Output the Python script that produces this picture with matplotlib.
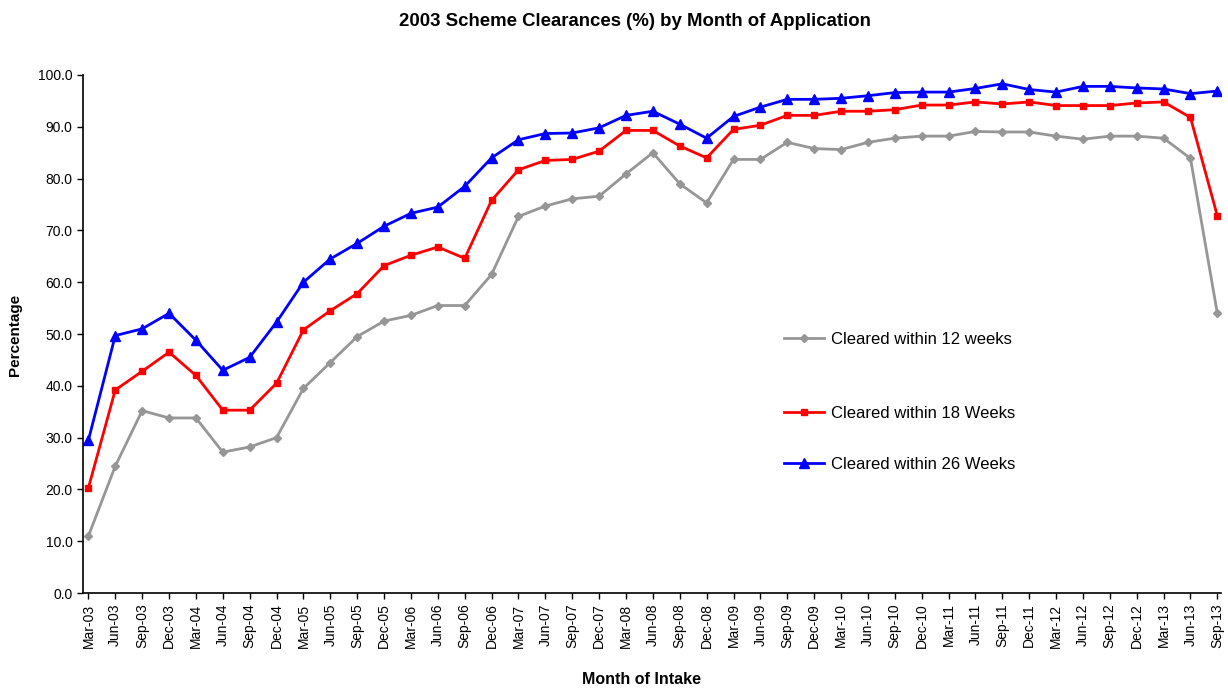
import matplotlib
matplotlib.use("Agg")
import matplotlib.pyplot as plt
from matplotlib.legend import Legend

plt.rcParams['font.family'] = ['Liberation Sans', 'DejaVu Sans']

months = ["Mar", "Jun", "Sep", "Dec"]
labels = []
for yr in range(3, 14):
    for m in months:
        labels.append(f"{m}-{yr:02d}")
labels = labels[:43]

cleared_12 = [11.0, 24.5, 35.2, 33.8, 33.8, 27.2, 28.2, 30.0, 39.5, 44.5,
              49.5, 52.5, 53.6, 55.5, 55.5, 61.5, 72.7, 74.7, 76.1, 76.6,
              80.9, 85.0, 79.0, 75.3, 83.7, 83.7, 87.0, 85.8, 85.6, 87.0,
              87.8, 88.2, 88.2, 89.1, 89.0, 89.0, 88.2, 87.6, 88.2, 88.2,
              87.8, 83.9, 54.0]
cleared_18 = [20.3, 39.2, 42.8, 46.5, 42.0, 35.3, 35.3, 40.5, 50.8, 54.5,
              57.8, 63.2, 65.2, 66.8, 64.6, 75.8, 81.7, 83.5, 83.7, 85.3,
              89.3, 89.3, 86.3, 84.0, 89.5, 90.3, 92.2, 92.2, 93.0, 93.0,
              93.3, 94.2, 94.2, 94.8, 94.4, 94.8, 94.1, 94.1, 94.1, 94.6,
              94.8, 91.8, 72.8]
cleared_26 = [29.5, 49.7, 51.0, 54.0, 48.8, 43.0, 45.5, 52.3, 60.0, 64.5,
              67.5, 70.8, 73.3, 74.5, 78.5, 84.0, 87.5, 88.7, 88.8, 89.8,
              92.2, 93.0, 90.5, 87.8, 92.0, 93.8, 95.3, 95.3, 95.5, 96.0,
              96.6, 96.7, 96.7, 97.4, 98.3, 97.2, 96.7, 97.8, 97.8, 97.5,
              97.3, 96.4, 96.9]

series_names = ["Cleared within 12 weeks", "Cleared within 18 Weeks", "Cleared within 26 Weeks"]

W, H = 1228, 688
fig = plt.figure(figsize=(W / 100, H / 100), dpi=100)
ax = fig.add_axes([0.0676, 0.138, 0.927, 0.753])

x = list(range(len(labels)))
l1, = ax.plot(x, cleared_12, color="#969696", marker="D", markersize=4.5, linewidth=2, label=series_names[0])
l2, = ax.plot(x, cleared_18, color="#FF0000", marker="s", markersize=5, linewidth=2, label=series_names[1])
l3, = ax.plot(x, cleared_26, color="#0000FF", marker="^", markersize=6.5, linewidth=2, label=series_names[2])

ax.set_xlim(-0.2, len(labels) - 1 + 0.15)
ax.set_ylim(0, 100)
ax.set_yticks(range(0, 101, 10))
ax.set_yticklabels([f"{v:.1f}" for v in range(0, 101, 10)], fontsize=10)
ax.set_xticks(x)
ax.set_xticklabels(labels, rotation=90, fontsize=10)
ax.tick_params(axis='both', direction='out', length=4, width=1, colors='black')
for s in ["top", "right"]:
    ax.spines[s].set_visible(False)
for s in ["left", "bottom"]:
    ax.spines[s].set_linewidth(1.2)

fig.text(635 / W, 1 - 22 / H, "2003 Scheme Clearances (%) by Month of Application",
         fontsize=13.4, fontweight="bold", ha="center", va="center")
fig.text(642 / W, 1 - 679 / H, "Month of Intake", fontsize=11.5, fontweight="bold",
         ha="center", va="center")
fig.text(15 / W, 1 - 335 / H, "Percentage", fontsize=11, fontweight="bold",
         ha="center", va="center", rotation=90)

ypos = [0.490, 0.347, 0.249]
for line, name, yp in zip([l1, l2, l3], series_names, ypos):
    leg = Legend(ax, [line], [name], loc="center left", bbox_to_anchor=(0.616, yp),
                 frameon=False, fontsize=12, borderpad=0, borderaxespad=0,
                 handlelength=2.4, handletextpad=0.4)
    ax.add_artist(leg)

fig.savefig("out.png", dpi=100)
